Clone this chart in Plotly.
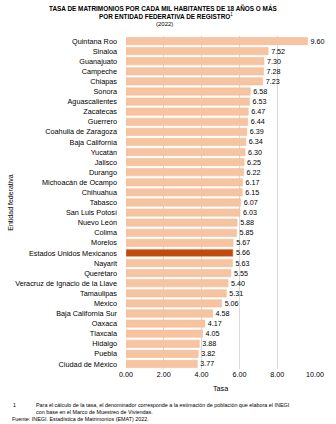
import plotly.graph_objects as go

entidades = [
    "Quintana Roo", "Sinaloa", "Guanajuato", "Campeche", "Chiapas", "Sonora",
    "Aguascalientes", "Zacatecas", "Guerrero", "Coahuila de Zaragoza",
    "Baja California", "Yucatán", "Jalisco", "Durango", "Michoacán de Ocampo",
    "Chihuahua", "Tabasco", "San Luis Potosí", "Nuevo León", "Colima", "Morelos",
    "Estados Unidos Mexicanos", "Nayarit", "Querétaro",
    "Veracruz de Ignacio de la Llave", "Tamaulipas", "México",
    "Baja California Sur", "Oaxaca", "Tlaxcala", "Hidalgo", "Puebla",
    "Ciudad de México",
]
tasas = [
    9.60, 7.52, 7.30, 7.28, 7.23, 6.58, 6.53, 6.47, 6.44, 6.39, 6.34, 6.30,
    6.25, 6.22, 6.17, 6.15, 6.07, 6.03, 5.88, 5.85, 5.67, 5.66, 5.63, 5.55,
    5.40, 5.31, 5.06, 4.58, 4.17, 4.05, 3.88, 3.82, 3.77,
]
tick_vals = [0, 2, 4, 6, 8, 10]
tick_text = ["0.00", "2.00", "4.00", "6.00", "8.00", "10.00"]
nacional = "Estados Unidos Mexicanos"

FONT = "Liberation Sans, Arial, sans-serif"
colores = ["#C14A0C" if e == nacional else "#F7C4A1" for e in entidades]

fig = go.Figure(go.Bar(
    x=tasas,
    y=entidades,
    orientation="h",
    marker=dict(color=colores, line=dict(color="#F0B58F", width=0.5)),
    text=[f"{v:.2f}" for v in tasas],
    textposition="outside",
    constraintext="none",
    textfont=dict(family=FONT, size=7.2, color="#000000"),
    cliponaxis=False,
    hoverinfo="x+y",
))

fig.update_layout(
    width=336, height=424,
    margin=dict(l=126, r=15, t=36, b=55),
    paper_bgcolor="white", plot_bgcolor="white",
    bargap=0.28,
    showlegend=False,
    font=dict(family=FONT, size=7, color="#000000"),
    xaxis=dict(
        range=[0, 10], tickvals=tick_vals, ticktext=tick_text,
        showgrid=True, gridcolor="#D9D9D9", gridwidth=1,
        zeroline=False, showline=False, ticks="",
        tickfont=dict(family=FONT, size=7.2, color="#000000"),
        fixedrange=True,
    ),
    yaxis=dict(
        autorange="reversed", showgrid=False, zeroline=False, ticks="",
        ticklabelstandoff=8,
        tickfont=dict(family=FONT, size=7.3, color="#000000"),
        fixedrange=True,
    ),
)

def px_x(p):
    return (p - 126) / 195.0

def px_y(p):
    return (369 - p) / 333.0

notas = [
    dict(text="<b>TASA DE MATRIMONIOS POR CADA MIL HABITANTES DE 18 AÑOS O MÁS</b>",
         x=px_x(165), y=px_y(8), xanchor="center", size=6.4),
    dict(text="<b>POR ENTIDAD FEDERATIVA DE REGISTRO</b><sup>1</sup>",
         x=px_x(167), y=px_y(16), xanchor="center", size=6.4),
    dict(text="(2022)", x=px_x(166), y=px_y(24), xanchor="center", size=6),
    dict(text="Tasa", x=px_x(223), y=px_y(388), xanchor="center", size=7.2),
    dict(text="1", x=px_x(7), y=px_y(405), xanchor="left", size=5.4),
    dict(text="Para el cálculo de la tasa, el denominador corresponde a la estimación de población que elabora el INEGI",
         x=px_x(31), y=px_y(405), xanchor="left", size=5.4),
    dict(text="con base en el Marco de Muestreo de Viviendas.",
         x=px_x(31), y=px_y(412), xanchor="left", size=5.4),
    dict(text="Fuente: INEGI. Estadística de Matrimonios (EMAT) 2022.",
         x=px_x(6), y=px_y(419), xanchor="left", size=5.4),
]
for n in notas:
    fig.add_annotation(
        text=n["text"], x=n["x"], y=n["y"], xref="paper", yref="paper",
        xanchor=n["xanchor"], yanchor="middle", showarrow=False,
        font=dict(family=FONT, size=n["size"], color="#000000"),
    )

fig.add_annotation(
    text="Entidad federativa", x=px_x(6), y=px_y(202), xref="paper", yref="paper",
    xanchor="center", yanchor="middle", textangle=-90, showarrow=False,
    font=dict(family=FONT, size=7, color="#000000"),
)

fig.write_html("out.html", config={"displayModeBar": False})
